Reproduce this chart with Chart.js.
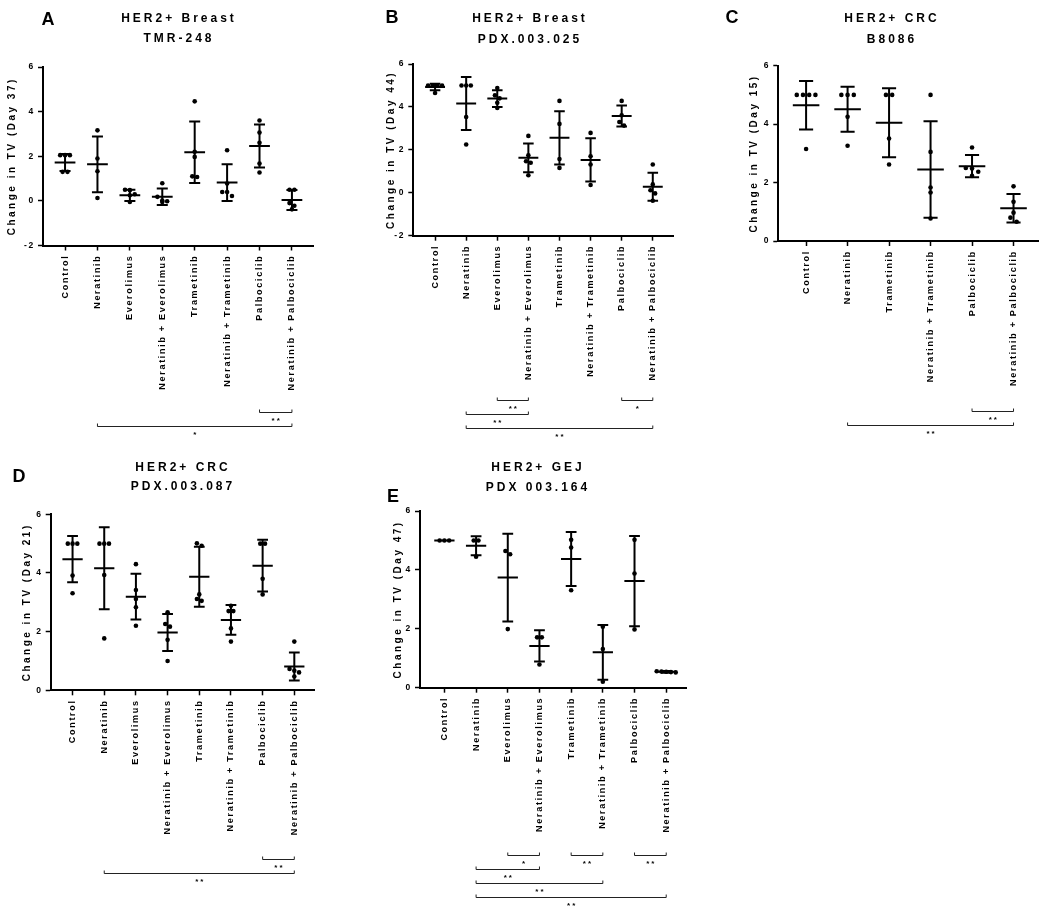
<!DOCTYPE html>
<html>
<head>
<meta charset="utf-8">
<script src="https://cdn.jsdelivr.net/npm/chart.js@4.4.0/dist/chart.umd.min.js"></script>
<style>
body { margin: 0; background: #fff; }
#page { position: relative; width: 1050px; height: 912px; }
canvas { position: absolute; }
</style>
</head>
<body>
<div id="page">
<canvas id="chartA" width="345" height="445" style="left:0px;top:0px"></canvas>
<canvas id="chartB" width="330" height="445" style="left:365px;top:0px"></canvas>
<canvas id="chartC" width="350" height="445" style="left:700px;top:0px"></canvas>
<canvas id="chartD" width="345" height="467" style="left:0px;top:445px"></canvas>
<canvas id="chartE" width="330" height="467" style="left:365px;top:445px"></canvas>
</div>
<script>
const labels8 = ['Control', 'Neratinib', 'Everolimus', 'Neratinib + Everolimus', 'Trametinib', 'Neratinib + Trametinib', 'Palbociclib', 'Neratinib + Palbociclib'];
const labels6 = ['Control', 'Neratinib', 'Trametinib', 'Neratinib + Trametinib', 'Palbociclib', 'Neratinib + Palbociclib'];
const yTicksNeg = [-2, 0, 2, 4, 6];
const yTicksPos = [0, 2, 4, 6];

// A - HER2+ Breast TMR-248
const pointsA = [[2.05, 2.05, 2.05, 1.3, 1.3], [3.16, 1.9, 1.33, 0.13], [0.5, 0.48, 0.3, 0.25, -0.05], [0.79, 0.18, 0.02, -0.02, -0.05],
  [4.46, 2.2, 1.97, 1.1, 1.07], [2.27, 0.78, 0.4, 0.4, 0.22], [3.6, 3.06, 2.6, 1.67, 1.27], [0.5, 0.5, -0.1, -0.22, -0.38]];
const meansA = [1.72, 1.64, 0.25, 0.18, 2.18, 0.82, 2.46, 0.04];
const sdsA = [0.38, 1.25, 0.25, 0.37, 1.38, 0.82, 0.96, 0.45];
const bracketsA = [[6, 7, '**', 0], [1, 7, '*', 1]];

// B - HER2+ Breast PDX.003.025
const pointsB = [[5.0, 5.0, 5.0, 5.0, 4.65], [5.0, 5.0, 5.0, 3.53, 2.25], [4.88, 4.54, 4.4, 4.19, 3.95], [2.65, 1.75, 1.47, 1.4, 0.82],
  [4.28, 3.21, 1.57, 1.16], [2.79, 1.7, 1.32, 0.36], [4.28, 3.61, 3.3, 3.13], [1.32, 0.39, 0.12, -0.03, -0.37]];
const meansB = [4.93, 4.16, 4.39, 1.63, 2.56, 1.53, 3.58, 0.28];
const sdsB = [0.15, 1.23, 0.39, 0.67, 1.24, 1.01, 0.49, 0.65];
const bracketsB = [[2, 3, '**', 0], [6, 7, '*', 0], [1, 3, '**', 1], [1, 7, '**', 2]];

// C - HER2+ CRC B8086
const pointsC = [[5.0, 5.0, 5.0, 5.0, 3.15], [5.0, 5.0, 5.0, 4.25, 3.26], [5.0, 5.0, 3.51, 2.62], [5.0, 3.05, 1.83, 1.66, 0.77],
  [3.2, 2.5, 2.48, 2.37, 2.23], [1.87, 1.34, 0.97, 0.8, 0.66]];
const meansC = [4.65, 4.51, 4.05, 2.45, 2.56, 1.12];
const sdsC = [0.83, 0.77, 1.18, 1.65, 0.38, 0.49];
const bracketsC = [[4, 5, '**', 0], [1, 5, '**', 1]];

// D - HER2+ CRC PDX.003.087
const pointsD = [[5.0, 5.0, 5.0, 3.91, 3.31], [5.0, 5.0, 5.0, 3.93, 1.77], [4.3, 3.42, 3.11, 2.83, 2.2], [2.66, 2.26, 2.17, 1.72, 1.0],
  [5.01, 4.93, 3.27, 3.11, 3.05], [2.88, 2.7, 2.7, 2.11, 1.66], [5.0, 5.0, 3.8, 3.27], [1.66, 0.73, 0.67, 0.61, 0.47]];
const meansD = [4.47, 4.16, 3.19, 1.97, 3.87, 2.4, 4.25, 0.81];
const sdsD = [0.79, 1.4, 0.78, 0.63, 1.02, 0.51, 0.88, 0.48];
const bracketsD = [[6, 7, '**', 0], [1, 7, '**', 1]];

// E - HER2+ GEJ PDX 003.164
const pointsE = [[5.0, 5.0, 5.0], [5.0, 5.0, 4.45], [4.64, 4.53, 1.99], [1.71, 1.71, 0.79],
  [5.02, 4.76, 3.31], [2.07, 1.31, 0.2], [5.02, 3.88, 1.98], [0.56, 0.55, 0.54, 0.53, 0.52]];
const meansE = [5.0, 4.82, 3.74, 1.42, 4.37, 1.2, 3.62, 0.54];
const sdsE = [0, 0.32, 1.49, 0.53, 0.92, 0.93, 1.53, 0.03];
const bracketsE = [[2, 3, '*', 0], [4, 5, '**', 0], [6, 7, '**', 0], [1, 3, '**', 1], [1, 5, '**', 2], [1, 7, '**', 3]];

const fam = '"Liberation Sans", Arial, sans-serif';

const panels = [
  { id: 'chartA', box: [0, 0, 345, 445], plot: [43, 67, 313, 245.5], xr: [-0.68, 7.65], yr: [-2, 6], yTicks: yTicksNeg,
    labels: labels8, points: pointsA, means: meansA, sds: sdsA, brackets: bracketsA, bracketBase: 166,
    letter: ['A', 48, 20], title: ['HER2+ Breast', 'TMR-248'], titleX: 179, titleY: [18.5, 38.5],
    yTitle: 'Change in TV (Day 37)', yTitleGap: 31 },
  { id: 'chartB', box: [365, 0, 330, 445], plot: [413.3, 64, 673, 235.7], xr: [-0.7, 7.65], yr: [-2, 6], yTicks: yTicksNeg,
    labels: labels8, points: pointsB, means: meansB, sds: sdsB, brackets: bracketsB, bracketBase: 164,
    letter: ['B', 392, 18], title: ['HER2+ Breast', 'PDX.003.025'], titleX: 530, titleY: [18.5, 39.5],
    yTitle: 'Change in TV (Day 44)', yTitleGap: 22 },
  { id: 'chartC', box: [700, 0, 350, 445], plot: [778.3, 65.7, 1038, 241], xr: [-0.67, 5.59], yr: [0, 6], yTicks: yTicksPos,
    labels: labels6, points: pointsC, means: meansC, sds: sdsC, brackets: bracketsC, bracketBase: 170,
    letter: ['C', 732, 18], title: ['HER2+ CRC', 'B8086'], titleX: 892, titleY: [18.5, 39.5],
    yTitle: 'Change in TV (Day 15)', yTitleGap: 24 },
  { id: 'chartD', box: [0, 445, 345, 467], plot: [50.7, 514.3, 314.9, 690.3], xr: [-0.69, 7.65], yr: [0, 6], yTicks: yTicksPos,
    labels: labels8, points: pointsD, means: meansD, sds: sdsD, brackets: bracketsD, bracketBase: 169,
    letter: ['D', 19, 477], title: ['HER2+ CRC', 'PDX.003.087'], titleX: 183, titleY: [467.7, 486.7],
    yTitle: 'Change in TV (Day 21)', yTitleGap: 23 },
  { id: 'chartE', box: [365, 445, 330, 467], plot: [420, 511, 686.8, 687.7], xr: [-0.77, 7.65], yr: [0, 6], yTicks: yTicksPos,
    labels: labels8, points: pointsE, means: meansE, sds: sdsE, brackets: bracketsE, bracketBase: 167,
    letter: ['E', 393, 497], title: ['HER2+ GEJ', 'PDX 003.164'], titleX: 538, titleY: [468, 488],
    yTitle: 'Change in TV (Day 47)', yTitleGap: 22 }
];

// put equal values side by side, like the prism scatter
function spread(vals, tol, step) {
  const idx = vals.map((v, i) => i).sort((a, b) => vals[b] - vals[a]);
  const off = vals.map(() => 0);
  let k = 0;
  while (k < idx.length) {
    const g = [idx[k]];
    while (k + g.length < idx.length && vals[g[0]] - vals[idx[k + g.length]] < tol) g.push(idx[k + g.length]);
    g.forEach((j, n) => { off[j] = (n - (g.length - 1) / 2) * step; });
    k += g.length;
  }
  return off;
}

function makePlugin(p) {
  return {
    id: 'panel',
    beforeLayout(chart) { chart.ctx.letterSpacing = '1.7px'; },
    beforeDraw(chart) { chart.ctx.letterSpacing = '1.7px'; },
    beforeDatasetsDraw(chart) {
      const ctx = chart.ctx, x = chart.scales.x, y = chart.scales.y;
      const w = x.getPixelForValue(1) - x.getPixelForValue(0);
      ctx.save();
      ctx.strokeStyle = '#000';
      ctx.lineWidth = 2;
      p.means.forEach((m, i) => {
        const cx = x.getPixelForValue(i);
        const yt = y.getPixelForValue(m + p.sds[i]);
        const yb = y.getPixelForValue(m - p.sds[i]);
        const ym = y.getPixelForValue(m);
        ctx.beginPath();
        ctx.moveTo(cx, yt); ctx.lineTo(cx, yb);
        ctx.moveTo(cx - w * 0.17, yt); ctx.lineTo(cx + w * 0.17, yt);
        ctx.moveTo(cx - w * 0.17, yb); ctx.lineTo(cx + w * 0.17, yb);
        ctx.moveTo(cx - w * 0.32, ym); ctx.lineTo(cx + w * 0.32, ym);
        ctx.stroke();
      });
      ctx.restore();
    },
    afterDraw(chart) {
      const ctx = chart.ctx, x = chart.scales.x, a = chart.chartArea;
      const ox = p.box[0], oy = p.box[1];
      ctx.save();
      ctx.fillStyle = '#000';
      ctx.textAlign = 'center';
      ctx.textBaseline = 'middle';
      // panel letter
      ctx.letterSpacing = '0px';
      ctx.font = 'bold 18px ' + fam;
      ctx.fillText(p.letter[0], p.letter[1] - ox, p.letter[2] - oy);
      // title
      ctx.letterSpacing = '3px';
      ctx.font = 'bold 12px ' + fam;
      ctx.fillText(p.title[0], p.titleX - ox, p.titleY[0] - oy);
      ctx.fillText(p.title[1], p.titleX - ox, p.titleY[1] - oy);
      // y axis title
      ctx.letterSpacing = '2.5px';
      ctx.font = 'bold 10px ' + fam;
      ctx.save();
      ctx.translate(a.left - p.yTitleGap, (a.top + a.bottom) / 2);
      ctx.rotate(-Math.PI / 2);
      ctx.fillText(p.yTitle, 0, 0);
      ctx.restore();
      // significance brackets
      ctx.strokeStyle = '#222';
      ctx.lineWidth = 1;
      ctx.letterSpacing = '2px';
      ctx.font = 'bold 8px ' + fam;
      p.brackets.forEach(b => {
        const x1 = x.getPixelForValue(b[0]), x2 = x.getPixelForValue(b[1]);
        const yy = Math.round(a.bottom + p.bracketBase + b[3] * 14) + 0.5;
        ctx.beginPath();
        ctx.moveTo(x1, yy - 3); ctx.lineTo(x1, yy); ctx.lineTo(x2, yy); ctx.lineTo(x2, yy - 3);
        ctx.stroke();
        ctx.fillText(b[2], (x1 + x2) / 2 + 1, yy + 8);
      });
      ctx.restore();
    }
  };
}

panels.forEach(p => {
  const pxPerUnit = (p.plot[3] - p.plot[1]) / (p.yr[1] - p.yr[0]);
  const data = [];
  p.points.forEach((vals, i) => {
    const off = spread(vals, 4.5 / pxPerUnit, 0.15);
    vals.forEach((v, j) => data.push({ x: i + off[j], y: v }));
  });
  const bottomSpace = p.box[1] + p.box[3] - p.plot[3];
  new Chart(document.getElementById(p.id), {
    type: 'scatter',
    data: {
      datasets: [{
        data: data,
        pointRadius: 2.3,
        pointBackgroundColor: '#000',
        pointBorderWidth: 0
      }]
    },
    options: {
      responsive: false,
      animation: false,
      events: [],
      layout: {
        padding: { top: p.plot[1] - p.box[1], right: p.box[0] + p.box[2] - p.plot[2], left: 0, bottom: 0 }
      },
      plugins: { legend: { display: false }, tooltip: { enabled: false } },
      scales: {
        x: {
          type: 'linear',
          min: p.xr[0],
          max: p.xr[1],
          afterBuildTicks: s => { s.ticks = p.labels.map((l, i) => ({ value: i })); },
          afterFit: s => { s.height = bottomSpace; s.paddingLeft = 0; s.paddingRight = 0; },
          ticks: {
            callback: (v, i) => p.labels[i],
            autoSkip: false,
            maxRotation: 90,
            minRotation: 90,
            padding: 4,
            color: '#000',
            font: { family: fam, size: 9, weight: 'bold' }
          },
          grid: { drawOnChartArea: false, drawTicks: true, tickLength: 5, tickWidth: 1.5, tickColor: '#000' },
          border: { color: '#000', width: 2 }
        },
        y: {
          type: 'linear',
          min: p.yr[0],
          max: p.yr[1],
          afterBuildTicks: s => { s.ticks = p.yTicks.map(v => ({ value: v })); },
          afterFit: s => { s.width = p.plot[0] - p.box[0]; s.paddingTop = 0; s.paddingBottom = 0; },
          ticks: {
            padding: 3,
            color: '#000',
            font: { family: fam, size: 8.5, weight: 'bold' }
          },
          grid: { drawOnChartArea: false, drawTicks: true, tickLength: 5, tickWidth: 1.5, tickColor: '#000' },
          border: { color: '#000', width: 2 }
        }
      }
    },
    plugins: [makePlugin(p)]
  });
});
</script>
</body>
</html>
